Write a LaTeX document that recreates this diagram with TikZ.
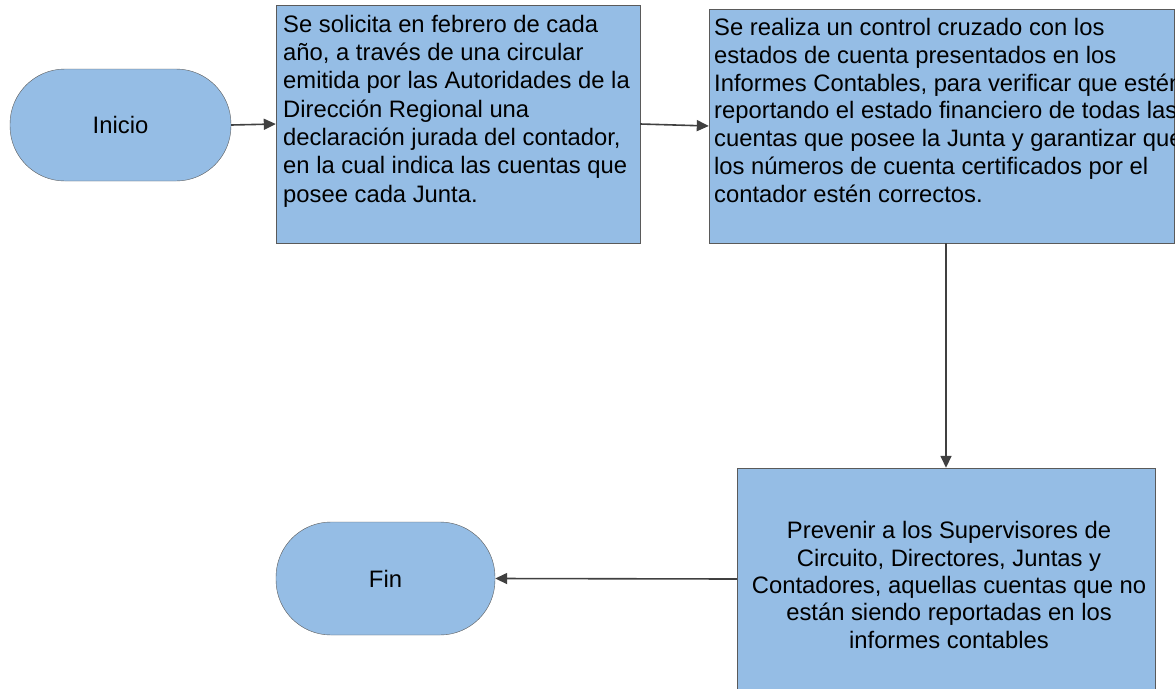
\documentclass[tikz,border=0pt]{standalone}
\usepackage{fontspec}
\setmainfont{Liberation Sans}
\usetikzlibrary{arrows.meta}
\definecolor{boxblue}{RGB}{149,189,229}
\definecolor{edgegray}{RGB}{90,90,90}
\definecolor{arrowgray}{RGB}{64,64,64}

\begin{document}
\begin{tikzpicture}[x=1pt, y=-1pt,
    term/.style={draw=edgegray, fill=boxblue, rounded corners=55pt, inner sep=0pt,
                 font=\fontsize{23.8}{28}\selectfont},
    proc/.style={draw=edgegray, fill=boxblue, inner sep=0pt},
    ptext/.style={inner sep=0pt, align=left, anchor=base west,
                  font=\fontsize{23.8}{28.3}\selectfont},
    arr/.style={-{Triangle[length=12pt,width=11pt]}, line width=1.6pt, draw=arrowgray}
]
\useasboundingbox (0,0) rectangle (1175,688);
% terminals
\node[term, minimum width=221pt, minimum height=112pt] (inicio) at (120.5,125) {Inicio};
\node[term, minimum width=219pt, minimum height=113pt] (fin) at (385.5,578.5) {Fin};
% process boxes
\node[proc, minimum width=364pt, minimum height=238pt] (solicita) at (458,124) {};
\node[proc, minimum width=465pt, minimum height=234pt] (control) at (941.5,126) {};
\node[proc, minimum width=418pt, minimum height=222pt] (prevenir) at (946,579) {};
% texts, placed by the baseline of their last line
\node[ptext] (solicitatxt) at (283,202) {Se solicita en febrero de cada\\
año, a través de una circular\\
emitida por las Autoridades de la\\
Dirección Regional una\\
declaración jurada del contador,\\
en la cual indica las cuentas que\\
posee cada Junta.};
\node[ptext, font=\fontsize{23.8}{27.7}\selectfont] (controltxt) at (714,202) {Se realiza un control cruzado con los\\
estados de cuenta presentados en los\\
Informes Contables, para verificar que estén\\
reportando el estado financiero de todas las\\
cuentas que posee la Junta y garantizar que\\
los números de cuenta certificados por el\\
contador estén correctos.};
\node[ptext, align=center, anchor=base, font=\fontsize{23.8}{27.3}\selectfont] (prevenirtxt) at (949,648)
  {Prevenir a los Supervisores de\\
   Circuito, Directores, Juntas y\\
   Contadores, aquellas cuentas que no\\
   están siendo reportadas en los\\
   informes contables};
% connectors
\draw[arr] (inicio.east) -- (solicita.west);
\draw[arr] (solicita.east) -- (control.west);
\draw[arr] (control.south -| prevenir.north) -- (prevenir.north);
\draw[arr] (prevenir.west) -- (fin.east);
\end{tikzpicture}
\end{document}
